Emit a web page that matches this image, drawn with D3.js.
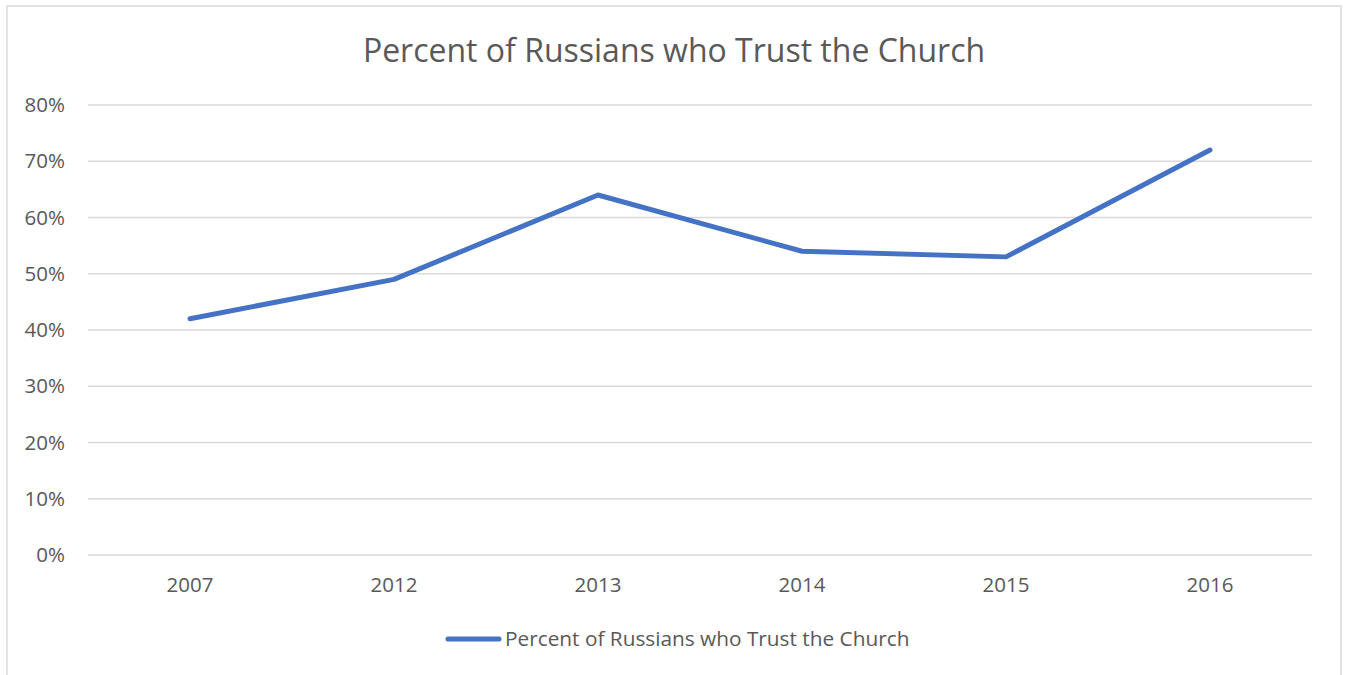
<!DOCTYPE html>
<html>
<head>
<meta charset="utf-8">
<script src="https://cdnjs.cloudflare.com/ajax/libs/d3/7.8.5/d3.min.js"></script>
<style>
  body { margin: 0; background: #fff; }
  text { font-family: "Open Sans", "Noto Sans", sans-serif; fill: #595959; }
</style>
</head>
<body>
<div id="chart"></div>
<script>
const years = ["2007", "2012", "2013", "2014", "2015", "2016"];
const trust = [0.42, 0.49, 0.64, 0.54, 0.53, 0.72];
const yTicks = [0, 0.1, 0.2, 0.3, 0.4, 0.5, 0.6, 0.7, 0.8];
const seriesName = "Percent of Russians who Trust the Church";

const width = 1347, height = 675,
    blue = "#4472C4",
    grid = "#d9d9d9";

const svg = d3.select("#chart").append("svg")
    .attr("width", width)
    .attr("height", height);

// chart area border (bottom runs off the page)
svg.append("rect")
    .attr("x", 7).attr("y", 6)
    .attr("width", 1334).attr("height", 700)
    .attr("fill", "none")
    .attr("stroke", grid)
    .attr("stroke-width", 1.5);

svg.append("text")
    .attr("x", 674).attr("y", 62)
    .attr("text-anchor", "middle")
    .style("font-size", "32px")
    .text(seriesName);

const x = d3.scaleBand().domain(years).range([88, 1312]);
const y = d3.scaleLinear().domain([0, 0.8]).range([555, 105]);

// gridlines
svg.append("g")
    .selectAll("line")
    .data(yTicks)
    .enter().append("line")
    .attr("x1", 88).attr("x2", 1312)
    .attr("y1", (d) => y(d)).attr("y2", (d) => y(d))
    .attr("stroke", grid)
    .attr("stroke-width", 1.3);

const yAxis = svg.append("g")
    .attr("transform", "translate(65,0)")
    .call(d3.axisLeft(y).tickValues(yTicks).tickFormat(d3.format(".0%")).tickSize(0));
yAxis.select(".domain").remove();
yAxis.selectAll("text")
    .attr("x", 0)
    .style("font-size", "20.5px")
    .style("fill", "#595959");

const xAxis = svg.append("g")
    .attr("transform", "translate(0,555)")
    .call(d3.axisBottom(x).tickSize(0));
xAxis.select(".domain").remove();
xAxis.selectAll("text")
    .attr("y", 22)
    .style("font-size", "20.5px")
    .style("fill", "#595959");

const line = d3.line()
    .x((d, i) => x(years[i]) + x.bandwidth() / 2)
    .y((d) => y(d));

svg.append("path")
    .datum(trust)
    .attr("d", line)
    .attr("fill", "none")
    .attr("stroke", blue)
    .attr("stroke-width", 5)
    .attr("stroke-linejoin", "round")
    .attr("stroke-linecap", "round");

// legend
const legend = svg.append("g");
legend.append("line")
    .attr("x1", 448).attr("x2", 499)
    .attr("y1", 639).attr("y2", 639)
    .attr("stroke", blue)
    .attr("stroke-width", 5)
    .attr("stroke-linecap", "round");
legend.append("text")
    .attr("x", 505).attr("y", 646)
    .style("font-size", "20.8px")
    .text(seriesName);
</script>
</body>
</html>
